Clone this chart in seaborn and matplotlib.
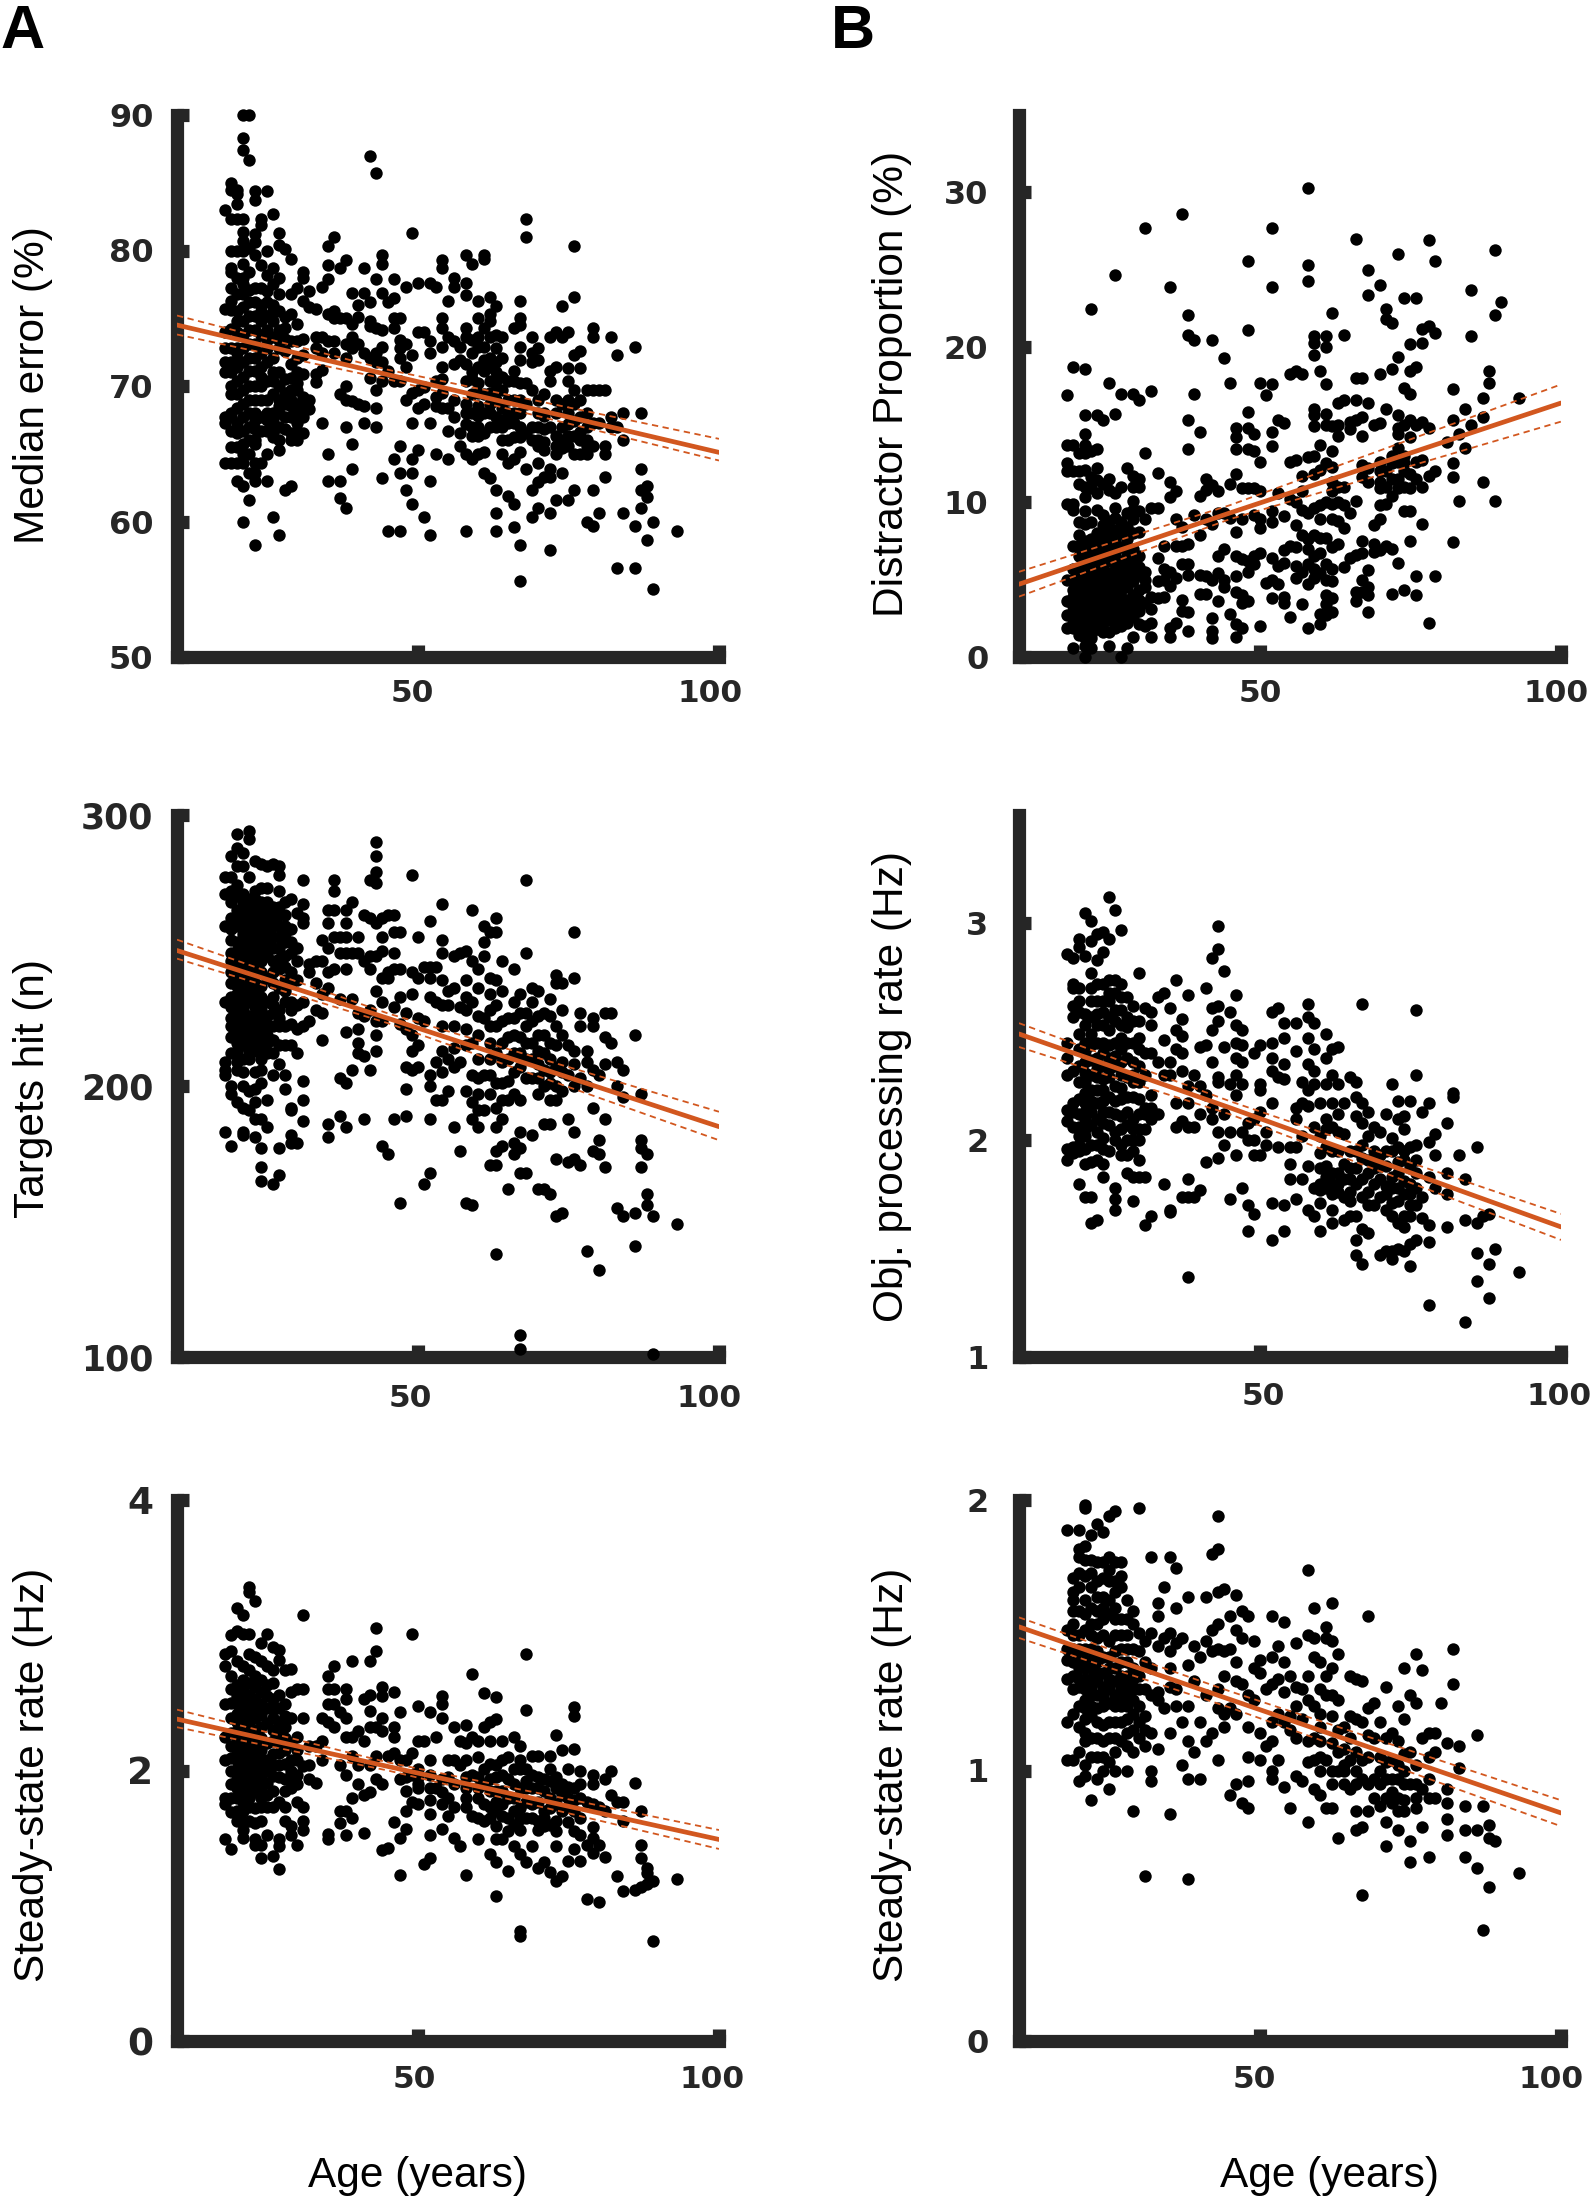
import matplotlib
matplotlib.use("Agg")
import matplotlib.pyplot as plt
import matplotlib.transforms as mtrans
import pandas as pd
import seaborn as sns

W, H = 1592, 2196
DARK = "#262626"
ORANGE = "#D2571F"

median_error = {
18:[83,75.7,74,72.8,71.8,71,67.7,67.3,64.3],
19:[85,84.5,82.3,80,78.7,78.4,77.2,76.3,75.6,74.2,72.8,71.8,71,69.4,66.7,64.3,70,68,67.7,65.5],
20:[84.5,84.2,83.4,82.3,80,76.8,75.5,74.8,74,72.4,71.4,70.4,69.4,68.4,67.3,66.5,64.3,63,78,72.8,71.8,65.5],
21:[90,88.3,87.4,82.3,81.4,80.7,80,76.8,75.8,74.8,73.8,72.8,71.8,70.7,69.7,68.7,67.7,66.7,65.7,65,64.3,62.6,60,79,78,77.5],
22:[90,86.7,80.2,78.4,77.1,76.2,75.2,74.1,73.1,72.1,71.1,70,69,63.6,61.6,68,67,66,65],
23:[84.4,83.7,81.2,80.6,79.7,77.2,76.2,75.2,74.1,73.1,72.1,71.1,70,69,66.8,65.7,64.3,63.6,63,58.3,68,67.5,66],
24:[82.3,81.9,78.9,77.2,75.5,74.8,73.8,72.4,71.4,69,67.7,66.7,64.3,76,70.7,70],
25:[84.4,80,78.2,76.2,75.2,74.1,72.8,71.8,70.4,69,66.7,65,63,77,73.4,68,67.5],
26:[82.7,78.7,77.5,76,74.8,73.6,72.1,70.4,69.4,68,67,66.2,60.3,75.5,71,67.6,66.6],
27:[81.3,80.4,78,76.8,75.5,74.1,72.8,71,70,68,67,66,65.3,59,73.4,69,68.5],
28:[80.1,75.1,74.3,68.7,67.7,66.8,62.3,73.5,72.6,70.5,69.5],
29:[79.4,76.8,75.3,73.3,71.6,70.6,69,67.7,66.5,66,62.6,69.7,68.5],
30:[77.2,74.6,73.3,72.1,69.7,68.7,66.7,66,71,70.2,68,67.3],
31:[78.4,78,76.3,72.3,70.9,69.2,67.7,66.5,73.5,68.5],
32:[77,75.8,69,68.3],
33:[75.7,73.6,72.8,70.9,70.3],
34:[77.3,73.6,72.4,71.2,67.3],
35:[80.3,78.9,77.9,75.3,73.3,65,63],
36:[81,75.5,75,73.3,72.4],
37:[78.7,75,69.4,63,61.7],
38:[79.3,75,73.1,72.1,70,69,67,61],
39:[76.9,74.6,73.6,72.8,68.9,65.7,63.9],
40:[76,75.1,73.1,68.7],
41:[78.7,76.9,72.4,68.5,67.3],
42:[87,76.2,74.8,74.4,72.1,70.6],
43:[85.7,77.9,74.3,72.4,71.8,69.7,68.4,67],
44:[79.7,79,76.9,74.1,72.9,71.8,70.4,63.2],
45:[76.2,71.1,59.3],
46:[77.9,76.5,75,74.3,70.4,64.6],
47:[75,73.4,72.8,72.1,70.4,59.3,65.6,63.6],
48:[77.3,73.1,71.4,69,62.3],
49:[81.3,72.3,69.5,67.3,64.6,63.6,61.3],
50:[77.6,74,69.7,68.4,65.3],
51:[74,69.9,68.7,60.3],
52:[77.6,73.3,72.4,67.3,63,59],
53:[77.3,70.4,69.2,68.5,65],
54:[79.3,78.7,75,74.3,72.9,71.4,68.4,70.5,69.5],
55:[76.3,73.6,68.4,66.7,64.6],
56:[78,77.3,73.3,71.6,69,67.7],
57:[72.9,71.9,66.5,65.6],
58:[79.7,77.6,76.7,74.3,73.6,71.6,70.4,68.7,65,59.3,68,67.2],
59:[79,73.4,72.4,69.4,68,67,66.3,64.6,71,70.5],
60:[76.3,75,72.9,70.2,67.8,67,66.3,65,73.6,71.4,69.5,68.5],
61:[79.7,79.4,74.3,72.9,71.9,71.1,69.4,65.1,63.6,68,66.5],
62:[76.6,75.3,74.8,73.6,72.1,71.4,70.4,68,63.2,69.5,68.7,67],
63:[75.9,73.8,72.8,71.8,69.7,67.7,62.3,60.6,59.3,71,70.4,69,67],
64:[73.6,72.1,70.7,68.4,66,65,69.7,67.5,67],
65:[70.4,69,67.3,64.3,61.9,68,66],
66:[74.3,71.1,69,67.3,64.6,61.3,59.6,70.4,68,66.2],
67:[76.3,75,74.5,72.9,71.9,70.2,69,66.2,65.1,58.3,55.6,68,67],
68:[82.3,81,70.2,68.7,66.5,63.9],
69:[73.6,72.4,71.8,69.7,67,66,62.3,60.3],
70:[72.8,71.9,69,67,65.6,64.3,62.9,61,68,66],
71:[69.4,66.8,65.3,63.3,68,67.8,65.9],
72:[73.6,71.1,70.4,67,63.9,63.3,60.6,57.9],
73:[74,71.4,69,65.6,65,61.6,68,66.3],
74:[75.9,73.6,68.7,63.6,67,66,65.4],
75:[74,71.3,70.4,66.3,65.6,61.6,69,68,67.2],
76:[80.3,76.6,72.3,69.7,68.7,66.3,65,62.3,67.4],
77:[72.6,71.3,67.7,66,65,69,66.6],
78:[69.7,67,65.6,65,60,68,66],
79:[74.3,73.6,69.7,67.3,65.6,62.3,59.7],
80:[69.7,67.3,60.6],
81:[69.7,65.6,65,63.3],
82:[73.6,67.7,67],
83:[72.3,67,56.6],
84:[68,66,60.6],
86:[72.9,59.7,56.6],
87:[68,63.9,62.3,61],
88:[62.6,61.8,58.6],
89:[60,55],
93:[59.3],
}

distractor = {
18:[16.9,13.7,12.5,12,9.9,5,3.6,2.7,1.9],
19:[18.7,13.7,12,9.9,9.5,7.2,5,4.3,3.3,2.5,1.9,0.6,5.7,3.9,3,2.2],
20:[13.2,12,11.2,8.7,7.9,6.5,5,4,3,2,1.4,7.2,5.7,4.5,3.5,2.5],
21:[18.6,15.6,14.4,13.7,13.2,12.1,11,10.3,9.4,8.6,7.5,6.3,5.3,4.5,3.5,2.7,1.7,0.7,0,6.9,5.8,5,4,3.1,2.2,1.2],
22:[22.5,13.3,11.6,10.9,8.7,7.6,6.5,5.5,4.5,3.4,2.4,1.9,1.2,0.6,7.1,6,5,4,3,1.5],
23:[15.6,13.4,12.2,11.4,10.6,9.5,8,6.8,5.7,4.8,3.8,3,1.8,7.4,6.2,5.3,4.3,3.4,2.4],
24:[15.3,11.2,9.2,8.5,7.3,6.2,5.2,4.3,3.4,2.7,1.6,7.9,6.7,5.7,4.8,3.9,3,2.2],
25:[17.7,11.5,10.8,8.8,7.7,6.7,5.4,4.5,3.7,3,1.6,0.7,8.3,7.2,6.2,5,4.1,3.3,2.4],
26:[24.7,15.7,10.6,9.6,9,7.5,6,5,4.4,3,2.2,8.2,6.7,5.5,4.7,3.7,2.6,1.9],
27:[17,11,8.7,8,6.2,5.1,4.3,3.4,2.5,0,7.1,5.7,4.8,3.9,3,2],
28:[12.2,9.3,7.6,6.5,5.2,3,2.2,0.6,8.4,7,5.8,4.5,3.7,2.6],
29:[17,11.7,11,10.1,8.9,8,5.6,3.5,2.6,1.3,9.5,7,6.2,4.9,4,3],
30:[16.6,11.5,11,9.4,8.1,5.3,4.3,3,2.1,6.5,5.8,3.7],
31:[27.7,13.2,8.9,5.5,3.5,2,4.5,5],
32:[17.2,9.6,3.9,3.1,2.2,1.3],
33:[11.9,9.6,6.4,4.9,3.8],
34:[7.2,5.7,5,3.9],
35:[23.9,11.3,10.3,5.5,4.6,1.9,1.3],
36:[10.7,8.9,7.2,5.1,2.2],
37:[28.6,8.4,7.2,6,3.7,3],
38:[22.1,20.8,15.3,13.4,7.3,6,5.3,2.9,1.7],
39:[20.5,17,9.2],
40:[14.5,10.4,7.9,5.3,4.1],
41:[11.5,10.8,8.9,5.2,4.1],
42:[20.5,11.1,8.6,5,2.5,1.7,1.2],
43:[10.7,9.3,6.5,5.4,3.6],
44:[19.3,9.3,7,5,4.5],
45:[17.7,11.2,9,2.8],
46:[14.8,14.2,13.4,11.8,8.1,6.5,5.2,4.2,2.1,1.3],
47:[10.9,8.9,6.3,4,3.5,1.9],
48:[25.6,21.1,15.8,14.8,13.4,10.9,6.2,5.5,3.6],
49:[14.4,13.3,10.9,9.2,6.5,6],
50:[17.7,12.6,10.7,8.9,8.3,6.7,2],
51:[16.9,4.8],
52:[27.7,23.9,17.6,14.5,13.6,9.4,8.7,6.4,5,3.8],
53:[15.3,10.6,5.9,4.7],
54:[15.1,9.1,6.9,6.1,3.9,3.5],
55:[18.3,12.6,10.2,7.2,2.6],
56:[18.5,12.7,10,8.5,7.1,5.9,5.1],
57:[18.3,11.7,10.7,9.5,7.9,5.5,3.4],
58:[30.3,25.3,24.3,12.9,9.3,7.6,7,6,4.7,1.9],
59:[20.7,20.3,19.5,16,15.6,14.9,13,11.8,9.6,7.9,6.5,5.7,5.1],
60:[18.5,13.7,12.1,9.8,6.7,5.4,2.1,2.8,8.9,7.7],
61:[20.7,20,17.6,15.7,15,12.5,10,7.7,6,5,4,3.4,2.7],
62:[22.2,14.9,13.3,12.3,9.9,8.9,7.1,5.7,4.9,3.8,2.9,11.3,10.7],
63:[16.4,15,14.3,11,10,8.8,7.3],
64:[20.8,16.6,11,9.8,8.3,5.8],
65:[15.2,14.7,9.3,6.4],
66:[27,18,16.6,15.3,10.1,6.6,4.2,3.6],
67:[18,15.5,14.3,12.4,11.6,7.5,6.7,5,4.2],
68:[25,23.4,16.4,12.2,11.3,5.6,4.5,4,2.9],
69:[15,8.5,7.3,6.8],
70:[24,18.3,15.1,12.6,10.9,9.8,8.9,6.9,12,11.3],
71:[22.5,21.8,16,12,11,9.9,7.2],
72:[21.6,18.6,12.5,10.4,7,4.1,13,11.5],
73:[26,19.4,15.6,14.8,14.4,13.5,12.6,11.5,10.9,6.1],
74:[23.2,17.4,15,13,12,9.4,4.3,12.5,11],
75:[20.2,18.5,17,15.3,14.2,11.8,10.9,9.4,7.5],
76:[23.2,18.7,15,12.6,11.5,5.2,4],
77:[21.2,20.3,15.2,12.7,11,8.6],
78:[26.9,21.4,14.8,11.7,2.2],
79:[25.6,20.9,12,5.2],
81:[13.9],
82:[17.3,15.3,12.5,11.6,7.4],
83:[14.4,10.1],
84:[16,13.5],
85:[23.7,20.7,15],
87:[16.7,15.5,11.3],
88:[18.5,17.7],
89:[26.3,22.1,10.1],
90:[22.9],
93:[16.7],
}

targets_hit = {
18:[277,271,259,231,209,206,204,183],
19:[285,277,268,262,254,249,242,233,225,218,197,178,272,258,246,238,229,222,212,200],
20:[293,288,281,274,265,259,253,247,240,234,227,219,213,206,194,270,262,250,243,237,231,223,216,209],
21:[286,281,271,265,259,253,247,240,234,228,221,215,200,192,183,182,268,262,256,250,244,237,231,225,218,210,205],
22:[294,291,277,269,263,257,251,245,237,231,222,216,210,198,191,266,260,254,248,241,234,226,219,213],
23:[283,272,266,260,254,248,242,234,229,222,216,194,188,181,269,263,257,251,245,238,231,225,219,213,205,199],
24:[282,273,268,262,256,250,242,233,228,221,213,210,201,188,177,170,165,265,259,253,246,237,231,224,217,206],
25:[281,273,268,260,254,248,231,222,216,195,185,264,257,251,240,226,219,212],
26:[282,266,259,251,242,233,227,217,204,164,262,255,246,238,230,222,212],
27:[281,278,272,266,259,251,243,228,222,208,177,167,263,255,247,236,225,215],
28:[268,259,253,248,239,231,215,204,199,263,256,244,235,222],
29:[269,253,249,242,231,228,215,192,191,182,179,258,238,223],
30:[264,251,246,239,230,221,212,179],
31:[276,267,262,260,231,222,202,195,187],
32:[245,242,224],
33:[246,238,228],
34:[254,246,234,227,217],
35:[265,260,251,242,236,186,181],
36:[276,272,265,255,243],
37:[255,249,232,203,189],
38:[265,260,255,249,243,220,201,185],
39:[268,249,232,206],
40:[255,249,227,221,216,212],
41:[263,246,226,211,188],
42:[276,262,248,243,228,206],
43:[290,285,279,275,260,248,235,224,219,213],
44:[262,255,250,240,231,224,178],
45:[263,240,242,175],
46:[263,257,249,243,229,188],
47:[257,243,233,223,157],
48:[227,221,207,199,189],
49:[278,242,234,219,213,206],
50:[255,240,225,215,207],
51:[244,224,164],
52:[261,244,240,233,204,200,188,168],
53:[244,231,209,195],
54:[267,254,249,239,222,213,195,230,205],
55:[235,230,210,198],
56:[248,236,222,207,185,214],
57:[249,229,209,176],
58:[250,239,233,221,198,157,228,215],
59:[265,246,231,216,204,194,188,156],
60:[243,236,219,210,197,191,185,226,203],
61:[259,253,248,225,204,191],
62:[257,240,234,222,210,197,171,228,216,204],
63:[262,257,239,230,222,212,201,192,185,176,138,171],
64:[246,235,216,201,188,178,224,209,195],
65:[225,210,195,162,218,202],
66:[243,231,219,197,179,175,225,212,205],
67:[234,227,218,207,183,177,168,108,103,212,195],
68:[276,249,227,216,203,168,222,210],
69:[236,231,224,216,182,210,203],
70:[235,219,213,203,162,226,208,197],
71:[227,219,200,186,162,212,206],
72:[232,226,216,210,201,186,160,205,195],
73:[241,238,222,195,173,152,215,207,200],
74:[238,228,219,209,153,205,198],
75:[215,204,188,172],
76:[257,240,213,183,173,208,200],
77:[227,222,203,171],
78:[213,209,200,139],
79:[225,222,206,192,176],
80:[204,180,175,132],
81:[227,218,208,188,170],
82:[227,216],
83:[209,200,155],
84:[206,196,152],
86:[219,153,141],
87:[197,180,177,170],
88:[175,160,156],
89:[152,101],
93:[149],
}

obj_rate = {
18:[2.86,2.45,2.38,2.3,2.14,2.09,1.96,1.91],
19:[2.84,2.72,2.7,2.62,2.57,2.32,2.17,2.13,2.06,1.97,1.94],
20:[2.93,2.89,2.7,2.64,2.59,2.49,2.34,2.19,2.06,1.98,1.95,1.8,2.42,2.27,2.12,2.02],
21:[3.05,2.85,2.53,2.45,2.36,2.27,2.17,2.1,2.02,1.96,1.89,1.74,2.58,2.41,2.31,2.22,2.13,2.05],
22:[3.01,2.92,2.77,2.7,2.64,2.49,2.44,2.3,2.23,2.13,1.74,1.62,2.57,2.37,2.18,2.07,1.98,1.9],
23:[2.95,2.83,2.72,2.64,2.53,2.38,2.29,2.17,2.1,1.98,1.91,1.63,2.58,2.45,2.33,2.23,2.04],
24:[2.96,2.87,2.72,2.64,2.53,2.45,2.34,2.23,2.13,1.96,1.89,1.83,2.59,2.4,2.28,2.18,2.08,2.01],
25:[3.12,2.93,2.74,2.64,2.51,2.38,2.29,2.13,2.68,2.57,2.44,2.33,2.2,2.07,1.95],
26:[3.06,2.74,2.6,2.45,2.34,2.25,2.12,2.04,1.78,1.73,1.68,2.68,2.55,2.39,2.18,2],
27:[2.97,2.72,2.66,2.53,2.42,2.3,2.19,2.11,1.98,2.6,2.47,2.36,2.24,2.05,1.93],
28:[2.57,2.45,2.29,2.13,1.93,1.85,2.66,2.52,2.38,2.2,2.07,2],
29:[2.62,2.45,2.36,2.27,2.1,2,1.83,1.72,2.55,2.3,2.2,2.05,1.95],
30:[2.77,2.55,2.47,2.34,2.19,2,1.91,1.83,2.42,2.27,2.12,2.05],
31:[2.61,2.15,2.12,1.83,1.61,2.4,2.3,2.05],
32:[2.59,2.53,2.21,2.15,1.65,2.4,2.1],
33:[2.66,2.36,2.12],
34:[2.68,2.46,2.3,1.8],
35:[2.61,2.36,2.3,1.68,1.67],
36:[2.74,2.51,2.42,2.17,2.06],
37:[2.56,2.48,2.4,2.32,2.09,1.74],
38:[2.67,2.25,2.17,2.06,1.82,1.74,1.37],
39:[2.3,2.06,1.74],
40:[2.43,2.25,2.12,1.77],
41:[2.7,2.44,2.21,1.9],
42:[2.84,2.61,2.51,2.36,2.15,2.1],
43:[2.99,2.88,2.62,2.55,2.29,2.27,2.04,1.92],
44:[2.78,2.43,2.12,1.98],
45:[2.59,2.26,2.04,1.73],
46:[2.67,2.53,2.45,2.38,2.3,2.21,1.93],
47:[2.51,2.44,2.36,2.26,2.04,1.78],
48:[2.08,2,1.7,1.58],
49:[2.4,2.1,2,1.93,1.66],
50:[2.44,2.26,2.23,2.13,1.93],
51:[2.04,1.98],
52:[2.59,2.45,2.38,2.32,2.17,1.71,1.54],
53:[2.61,2.29,1.97],
54:[2.54,2.47,2.35,2.28,1.7,1.58],
55:[1.97,1.89,1.82],
56:[2.54,2.41,2.15,2.1,1.97,1.73],
57:[2.27,2.17,2.02,1.82],
58:[2.63,2.57,2.47,2.35,2.23,2.16,1.88,1.68],
59:[2.54,2.42,2.32,2.26,2.06,1.78,1.65],
60:[2.17,2.02,1.87,1.71,1.58,1.94,1.8,1.77],
61:[2.49,2.38,2.26,2.1,1.97,1.78,2.05,1.88,1.83],
62:[2.42,2.3,2.17,2.06,1.85,1.68,1.62,1.95,1.8,1.75],
63:[2.43,2.26,2.12,1.85,1.76,2.04,1.95,1.8],
64:[2.17,1.89,1.74,1.63,2.03,1.82],
65:[2.29,1.82,1.72,1.95,1.87,1.76,1.65],
66:[2.27,2.2,2.11,1.8,1.65,1.54,1.47,1.95,1.87],
67:[2.63,2.17,2.08,1.98,1.74,1.59,1.43,1.92,1.82],
68:[2.13,1.91,1.76,1.57,2.02,1.85,1.7],
69:[2.06,1.95,1.87,1.9,1.8,1.7],
70:[2.04,1.93,1.74,1.47,1.88,1.82],
71:[2.12,1.95,1.79,1.68,1.49,1.88,1.75],
72:[2.26,2.01,1.83,1.71,1.45,1.49,1.95,1.78,1.65],
73:[2.18,2.1,1.97,1.78,1.72,1.5,1.9,1.85,1.62],
74:[2.11,2.05,1.91,1.81,1.65,1.49,1.95,1.75,1.6],
75:[2.18,1.97,1.87,1.7,1.52,1.42,1.8,1.75,1.65],
76:[2.6,2.3,1.98,1.91,1.7,1.54,1.85,1.78],
77:[2.13,1.74,1.64],
78:[2.17,1.99,1.83,1.61,1.53,1.24],
79:[2.03,1.93,1.78],
81:[2.08,1.75,1.85,1.6],
82:[2.22,2.2],
83:[1.93],
84:[1.82,1.63,1.16],
86:[1.97,1.62,1.48,1.35],
87:[1.65],
88:[1.66,1.43,1.27],
89:[1.5],
93:[1.39],
}

steady_left = {
18:[2.86,2.77,2.49,2.25,2.08,1.8,1.75,1.49],
19:[3,2.88,2.7,2.6,2.39,2.18,2,1.9,1.69,1.42,2.5,2.28,2.09,1.8],
20:[3.2,3.03,2.81,2.63,2.49,2.36,2.22,2.08,1.94,1.8,1.63,2.55,2.42,2.29,2.15,2.01,1.87,1.7],
21:[3.15,3.01,2.77,2.67,2.53,2.39,2.25,2.11,1.97,1.84,1.7,1.56,1.5,2.6,2.46,2.32,2.18,2.04,1.9,1.77,1.62],
22:[3.36,3.32,3.01,2.86,2.74,2.56,2.43,2.29,2.15,2.01,1.87,1.73,1.63,2.65,2.5,2.36,2.22,2.08,1.94,1.8],
23:[3.25,2.84,2.7,2.53,2.39,2.22,2.08,1.94,1.84,1.61,1.49,1.45,2.62,2.46,2.3,2.15,2.01,1.89,1.72],
24:[2.94,2.81,2.67,2.49,2.32,2.15,2.01,1.87,1.73,1.63,1.45,1.35,2.58,2.41,2.24,2.08,1.94,1.8],
25:[3.01,2.77,2.63,2.46,2.08,1.91,1.73,1.52,2.55,2.35,2.2,2,1.82],
26:[2.91,2.74,2.53,2.39,2.22,2.04,1.73,1.37,2.65,2.46,2.3,2.12,1.96,1.85],
27:[2.89,2.82,2.56,2.36,2.22,2.04,1.77,1.49,1.44,1.27,2.46,2.29,2.13,1.95],
28:[2.74,2.49,2.32,2.15,1.94,1.73,1.63,2.4,2.24,2.05,1.85],
29:[2.75,2.58,2.39,2.08,1.87,1.59,1.52,2.2,2,1.95],
30:[2.6,2.25,2.08,1.97,1.77,1.45,2.15,1.9],
31:[3.15,2.6,2.39,2.03,1.73,1.63,1.56],
32:[2.18,2.04,1.94],
33:[2.18,1.91],
34:[2.39,2.22,2.08],
35:[2.7,2.6,2.49,2.36,1.53,1.49],
36:[2.77,2.6,2.49,2.32],
37:[2.43,2.04,1.7,1.61],
38:[2.6,2.53,2.39,2.25,1.97,1.7,1.52],
39:[2.81,2.25,2.11,1.8,1.65],
40:[2.29,2.04,1.9],
41:[2.53,2.22,1.82,1.54],
42:[2.81,2.56,2.44,2.32,2.04,1.84],
43:[3.05,2.88,2.32,2.11,1.94],
44:[2.62,2.55,2.39,2.29,1.9,1.41],
45:[2.11,1.43],
46:[2.58,2.32,2.25,2.13,1.62],
47:[2.43,2.08,1.94,1.5,1.23],
48:[2.08,1.7,1.57,1.95,1.85],
49:[3.01,2.13,1.97,1.77],
50:[2.48,2.22,2.01,1.87,1.75,1.95,1.9],
51:[2.22,1.31],
52:[2.43,2.08,1.87,1.68,1.52,1.35,1.97,1.78],
53:[2.25,1.87],
54:[2.55,2.49,2.39,1.94,1.84,1.57,1.75],
55:[2.08,1.8,1.66,1.95],
56:[2.32,2.08,1.9,1.73,1.5],
57:[2.22,2.04,1.44],
58:[2.34,2.08,1.87,1.73,1.23,2.2,1.95,1.8],
59:[2.71,2.25,1.97,1.66],
60:[2.22,1.8,1.49,2.1,1.95,1.87,1.65],
61:[2.57,2.32,2.01,1.63,1.9,1.75],
62:[2.36,2.22,1.94,1.73,1.38,2.05,1.85,1.65],
63:[2.54,2.38,2.04,1.77,1.59,1.49,1.32,1.07,1.95,1.85,1.7],
64:[2.22,1.97,1.66,1.49,2.08,1.85,1.75],
65:[1.94,1.26,2.1,1.8,1.65,1.55],
66:[2.25,2.01,1.7,1.44,1.9,1.8,1.6],
67:[2.18,2.01,1.56,1.38,0.81,0.78,2.08,1.87,1.72,1.64],
68:[2.86,2.45,2.01,1.77,1.32,1.92,1.87,1.65],
69:[2.11,1.87,1.44,1.97,1.75,1.65],
70:[2.11,1.87,1.63,1.28,1.95,1.77,1.56],
71:[1.94,1.59,1.32,1.85,1.7,1.65],
72:[2.11,2.01,1.8,1.25,1.92,1.72,1.6],
73:[2.26,1.87,1.63,1.44,1.18,1.95,1.75,1.55],
74:[2.15,1.9,1.22,1.82,1.7],
75:[2.01,1.73,1.33,1.88,1.8,1.62],
76:[2.47,2.4,2.16,1.87,1.42,1.78,1.7,1.55],
77:[2,1.8,1.52,1.33,1.9,1.65],
78:[1.77,1.45,1.05],
79:[1.97,1.9,1.58,1.39,1.75,1.5],
80:[1.73,1.45,1.03],
81:[1.94,1.7,1.36],
82:[2,1.82],
83:[1.77,1.22],
84:[1.77,1.63,1.11],
86:[1.91,1.12],
87:[1.7,1.45,1.35,1.14],
88:[1.28,1.24,1.16],
89:[1.18,0.74],
93:[1.2],
}

steady_right = {
18:[1.89,1.52,1.45,1.41,1.34,1.18,1.04],
19:[1.71,1.66,1.63,1.59,1.54,1.45,1.4,1.21,1.04,1.5,1.35,1.3],
20:[1.89,1.82,1.79,1.73,1.68,1.59,1.5,1.38,1.31,1.24,1.16,1.07,0.96,1.45,1.42,1.34],
21:[1.98,1.97,1.83,1.78,1.63,1.52,1.45,1.38,1.3,1.23,1.14,1.11,1.02,0.98,1.72,1.58,1.41,1.34,1.26,1.19],
22:[1.87,1.73,1.68,1.54,1.45,1.38,1.31,1.24,0.89,1.78,1.6,1.5,1.41,1.34,1.28,1.2,1.12,1.05],
23:[1.91,1.77,1.64,1.59,1.49,1.4,1.33,1.28,1.18,1.05,0.97,1.7,1.54,1.44,1.36,1.23,1.12],
24:[1.88,1.77,1.71,1.64,1.56,1.42,1.31,1.24,1.11,1.05,1,1.6,1.5,1.36,1.27,1.17],
25:[1.94,1.79,1.7,1.63,1.48,1.38,1.3,1.18,1.03,0.93,1.74,1.58,1.42,1.34,1.25,1.12],
26:[1.96,1.77,1.66,1.56,1.44,1.33,1.24,1.18,1.07,1,1.7,1.6,1.5,1.38,1.28,1.12],
27:[1.77,1.68,1.5,1.4,1.31,1.24,1.11,1.72,1.56,1.45,1.35,1.27,1.18],
28:[1.63,1.56,1.45,1.35,1.28,1.19,1.09,1,1.5,1.4,1.32,1.24,1.14],
29:[1.59,1.54,1.38,1.3,1.21,1.07,0.85,1.45,1.34,1.26,1.15],
30:[1.97,1.51,1.35,1.18,1.44,1.3,1.24,1.12],
31:[1.48,1.09,0.61,1.4,1.3,1.2,1.15],
32:[1.79,1.51,1.38,1.28,1.14,1,0.96],
33:[1.62,1.57,1.46,1.29,1.26,1.08],
34:[1.68,1.49,1.23],
35:[1.79,1.51,1.44,1.38,1.31,1.14,0.84],
36:[1.75,1.6,1.47,1.3,1.24],
37:[1.49,1.18,1.02],
38:[1.64,1.39,1.24,1.11,0.97,0.6],
39:[1.46,1.33,1.07],
40:[1.42,1.18,0.97],
41:[1.64,1.48,1.28,1.11],
42:[1.8,1.52,1.44,1.14],
43:[1.94,1.82,1.66,1.54,1.45,1.3,1.23,1.04],
44:[1.67,1.44,1.35,1.21,1.16],
45:[1.57,1.45,0.91,1.23],
46:[1.65,1.52,1.4,1.33,1.21,0.95],
47:[1.59,1.49,1.32,0.88],
48:[1.57,1.28,1.16,1.05,0.96,0.86],
49:[1.48,1.38,1.26],
50:[1.41,1.36,1.14,1.04],
51:[1.3,1.09],
52:[1.57,1.42,1.32,1.18,1.11,1,0.97],
53:[1.46,1.34,1.21,1.04],
54:[1.55,1.4,1.29,1.18,0.94],
55:[1.35,1.2,1.15,0.86],
56:[1.47,1.31,1.24,1.12,0.98],
57:[1.3,1.19,0.96],
58:[1.74,1.5,1.35,1.26,1.11,1.03,0.81],
59:[1.6,1.49,1.42,1.24,1.12,1.04,0.93],
60:[1.4,1.21,1.11,1,0.91,1.3,1.16,1.05],
61:[1.53,1.49,1.35,1.28,1.04,0.86],
62:[1.62,1.48,1.38,1.28,1,0.86,1.2,1.1,0.95],
63:[1.43,1.26,1.07,1,0.75,1.15],
64:[1.16,1.02,0.95,1.08,1],
65:[1.35,1.12,1.04,0.93,1.2],
66:[1.34,1.19,0.95,0.78,0.85,1.07,1],
67:[1.33,1.18,1.04,0.97,0.54,0.79],
68:[1.57,1.23,1.05,0.85,1.13,0.95],
69:[1.25,1.12,0.97,0.9],
70:[1.18,0.95,0.87,1.05,1],
71:[1.31,1.12,0.97,0.81,0.72,1.03,0.9],
72:[1.14,1.04,0.88,0.97,0.92],
73:[1.24,1.11,0.97,0.85,0.78,1.02,0.9],
74:[1.38,1.19,1,0.89,1.06,0.95,0.85],
75:[1.28,1.07,0.95,0.74,0.66],
76:[1.43,1.25,1.02,0.86,0.95,0.9],
77:[1.37,1.12,0.93,0.79],
78:[1.14,0.9,0.68,1.05,0.97],
79:[1.14,1.07,0.9],
80:[1.25],
81:[1.1,0.93,0.88,0.82,0.76],
82:[1.45,1.32],
83:[1.09,1.01],
84:[0.87,0.78,0.68],
86:[1.13,0.78,0.64],
87:[0.87,0.41],
88:[0.8,0.75,0.57],
89:[0.74],
93:[0.62],
}

fit_age = [10, 45, 100]
fit_median_error = ([74.5, 70.84, 65.1], [75.2, 71.2, 66.1], [73.8, 70.5, 64.5])
fit_distractor = ([4.7, 9.3, 16.4], [5.5, 9.8, 17.6], [3.9, 8.9, 15.2])
fit_targets = ([250, 225, 185], [254, 226.8, 190.5], [247, 223.2, 180])
fit_obj = ([2.49, 2.15, 1.6], [2.54, 2.18, 1.66], [2.43, 2.12, 1.54])
fit_steady_left = ([2.38, 2.03, 1.49], [2.45, 2.06, 1.56], [2.32, 2.0, 1.42])
fit_steady_right = ([1.531, 1.263, 0.843], [1.566, 1.293, 0.89], [1.49, 1.233, 0.794])

panels = [
    (median_error, fit_median_error, "Median error (%)", (50, 90), [50, 60, 70, 80, 90],
     (177, 719, 115, 657), 23, 17, 16, (-6, -9), (33, 385)),
    (targets_hit, fit_targets, "Targets hit (n)", (100, 300), [100, 200, 300],
     (177, 719, 815, 1357), 25, 17, 19.5, (-8, -10), (33, 1088)),
    (steady_left, fit_steady_left, "Steady-state rate (Hz)", (0, 4), [0, 2, 4],
     (177, 719, 1500, 2041), 27, 17, 17, (-4, -7), (33, 1775)),
    (distractor, fit_distractor, "Distractor Proportion (%)", (0, 35), [0, 10, 20, 30],
     (1019, 1561, 115, 657), 23, 22, 16, (0, -5), (892, 384)),
    (obj_rate, fit_obj, "Obj. processing rate (Hz)", (1, 3.5), [1, 2, 3],
     (1019, 1561, 815, 1357), 23, 22, 18, (3, -2), (892, 1087)),
    (steady_right, fit_steady_right, "Steady-state rate (Hz)", (0, 2), [0, 1, 2],
     (1019, 1561, 1500, 2041), 23, 22, 17, (-6, -10), (892, 1775)),
]

sns.set_theme(style="white")
plt.rcParams["font.family"] = ["DejaVu Sans"]
fig = plt.figure(figsize=(W / 100, H / 100), dpi=100)
fig.patch.set_facecolor("white")

for vals, fit, ylabel, ylim, yticks, box, ysize, ypad, xpad, shifts, lab in panels:
    l, r, t, b = box
    ax = fig.add_axes([l / W, 1 - b / H, (r - l) / W, (b - t) / H])
    ax.patch.set_alpha(0)
    df = pd.DataFrame([(a, v) for a, ys in vals.items() for v in ys], columns=["age", "value"])
    sns.scatterplot(data=df, x="age", y="value", color="black", s=80, linewidth=0,
                    ax=ax, clip_on=False, zorder=3)
    sns.lineplot(x=fit_age, y=fit[0], color=ORANGE, linewidth=3.4, ax=ax, zorder=5, errorbar=None)
    for k in (1, 2):
        sns.lineplot(x=fit_age, y=fit[k], color=ORANGE, linewidth=1.3, linestyle=(0, (3.5, 2.5)),
                     ax=ax, zorder=4, errorbar=None)
    ax.set_xlim(10, 100)
    ax.set_ylim(*ylim)
    ax.set_xticks([50, 100])
    ax.set_yticks(yticks)
    ax.set_xlabel("")
    ax.set_ylabel("")
    for s in ("top", "right"):
        ax.spines[s].set_visible(False)
    for s in ("left", "bottom"):
        ax.spines[s].set_linewidth(9.5)
        ax.spines[s].set_color(DARK)
        ax.spines[s].set_zorder(2)
    ax.tick_params(axis="both", which="major", direction="in", length=8.5, width=9.5,
                   color=DARK, labelcolor=DARK, left=True, bottom=True)
    ax.tick_params(axis="y", pad=ypad, labelsize=ysize)
    ax.tick_params(axis="x", pad=xpad, labelsize=22.5)
    for tl in ax.get_yticklabels() + ax.get_xticklabels():
        tl.set_fontweight("bold")
    for tl, dx in zip(ax.get_xticklabels(), shifts):
        tl.set_transform(tl.get_transform() + mtrans.ScaledTranslation(dx / 100, 0, fig.dpi_scale_trans))
    fig.text(lab[0] / W, 1 - lab[1] / H, ylabel, rotation=90, ha="center", va="center",
             fontsize=30.5, family="Liberation Sans", color="black")

for x in (418, 1329):
    fig.text(x / W, 1 - 2176 / H, "Age (years)", ha="center", va="center",
             fontsize=30.5, family="Liberation Sans", color="black")
fig.text(0 / W, 1 - 48 / H, "A", fontsize=44, fontweight="bold", family="Liberation Sans", color="black")
fig.text(831 / W, 1 - 48 / H, "B", fontsize=44, fontweight="bold", family="Liberation Sans", color="black")

fig.savefig("out.png", dpi=100, facecolor="white")
